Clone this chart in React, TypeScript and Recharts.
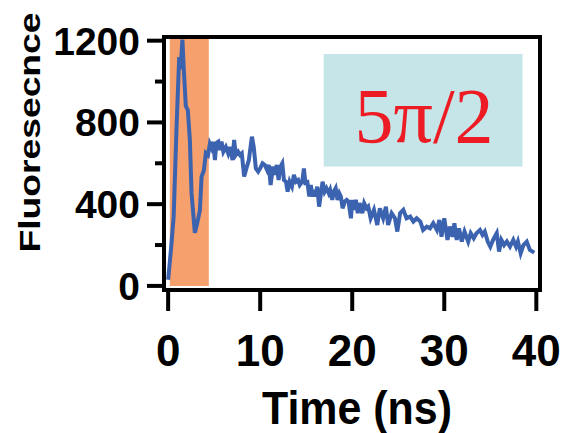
import React from 'react';
import { LineChart, Line, XAxis, YAxis, ReferenceArea } from 'recharts';

// time axis (ns) and fluorescence counts
const timeNs = [
  0.0, 0.35, 0.6, 0.9, 1.2, 1.35, 1.55, 1.7, 1.92, 2.14,
  2.36, 2.54, 2.9, 3.15, 3.45, 3.63, 3.88, 4.1, 4.33, 4.53,
  4.72, 4.9, 5.08, 5.25, 5.45, 5.6, 5.8, 6.0, 6.27, 6.52,
  6.7, 7.0, 7.17, 7.35, 7.6, 7.8, 8.0, 8.26, 8.5, 8.77,
  9.1, 9.3, 9.53, 9.78, 10.0, 10.26, 10.5, 10.75, 10.94, 11.13,
  11.4, 11.6, 11.8, 12.0, 12.2, 12.4, 12.58, 12.8, 12.98, 13.2,
  13.45, 13.66, 13.9, 14.13, 14.3, 14.57, 14.75, 14.93, 15.1, 15.33,
  15.5, 15.7, 15.87, 16.0, 16.2, 16.4, 16.6, 16.78, 17.0, 17.2,
  17.45, 17.6, 17.83, 18.0, 18.2, 18.4, 18.6, 18.77, 18.95, 19.2,
  19.4, 19.6, 19.86, 20.0, 20.25, 20.4, 20.6, 20.8, 21.1, 21.3,
  21.56, 21.74, 22.0, 22.36, 22.72, 23.0, 23.36, 23.66, 23.9, 24.28,
  24.64, 24.9, 25.2, 25.55, 25.9, 26.3, 26.64, 27.0, 27.4, 27.7,
  28.1, 28.45, 28.8, 29.2, 29.47, 29.7, 30.0, 30.35, 30.6, 30.9,
  31.1, 31.35, 31.6, 31.9, 32.2, 32.6, 32.87, 33.2, 33.5, 33.88,
  34.15, 34.4, 34.72, 35.0, 35.3, 35.7, 35.95, 36.2, 36.5, 36.8,
  37.14, 37.5, 37.8, 38.0, 38.3, 38.6, 38.96, 39.3, 39.78,
];

const fluorescence = [
  30, 200, 340, 760, 1120, 1060, 1205, 1060, 880, 860,
  715, 455, 260, 305, 370, 535, 565, 650, 640, 695,
  675, 705, 616, 700, 706, 665, 706, 657, 680, 649,
  680, 616, 714, 641, 657, 641, 649, 535, 575, 616,
  730, 680, 575, 559, 575, 600, 592, 567, 592, 494,
  584, 543, 592, 518, 584, 600, 518, 510, 461, 510,
  486, 543, 510, 518, 494, 510, 575, 494, 518, 437,
  494, 437, 470, 437, 486, 388, 453, 510, 461, 478,
  453, 470, 421, 461, 478, 421, 453, 437, 380, 413,
  421, 413, 331, 421, 372, 421, 356, 405, 356, 405,
  380, 388, 331, 372, 298, 380, 331, 388, 298, 356,
  331, 266, 356, 372, 331, 339, 315, 331, 315, 274,
  290, 282, 307, 274, 323, 241, 331, 225, 290, 241,
  307, 225, 282, 217, 266, 217, 258, 233, 258, 274,
  250, 266, 217, 192, 225, 258, 168, 225, 200, 217,
  192, 225, 192, 217, 160, 200, 217, 176, 163,
];

const xTicks = [0, 10, 20, 30, 40];
const yTicks = [0, 200, 400, 600, 800, 1000, 1200];
const yLabelledTicks = [0, 400, 800, 1200];

// shaded excitation window (ns)
const windowStart = 0.18;
const windowEnd = 4.42;
const windowTop = 1215;

// annotation box, in data units
const boxX = [16.9, 38.5];
const boxY = [584, 1135];
const boxText = '5π/2';

const xDomain = [-0.45, 40.4];
const yDomain = [-20, 1218];

const data = timeNs.map((t, i) => ({ t, f: fluorescence[i] }));

const sans = '"Liberation Sans", Arial, sans-serif';

const XTick = (props: any) => {
  const { x, y, payload } = props;
  return (
    <g>
      <line x1={x} y1={y} x2={x} y2={y + 21} stroke="#000" strokeWidth={4} />
      <text x={x} y={y + 76} textAnchor="middle" fontFamily={sans} fontWeight="bold" fontSize={44} fill="#000">
        {payload.value}
      </text>
    </g>
  );
};

const YTick = (props: any) => {
  const { x, y, payload } = props;
  const major = yLabelledTicks.includes(payload.value);
  return (
    <g>
      <line x1={x - (major ? 17 : 9)} y1={y} x2={x} y2={y} stroke="#000" strokeWidth={4} />
      {major && (
        <text x={x - 24} y={y + 14} textAnchor="end" fontFamily={sans} fontWeight="bold" fontSize={39} fill="#000">
          {payload.value}
        </text>
      )}
    </g>
  );
};

const XTitle = (props: any) => {
  const vb = props.viewBox;
  return (
    <text
      x={vb.x + vb.width / 2 + 5}
      y={vb.y + 134}
      textAnchor="middle"
      fontFamily={sans}
      fontWeight="bold"
      fontSize={47}
      textLength={190}
      lengthAdjust="spacingAndGlyphs"
      fill="#000"
    >
      Time (ns)
    </text>
  );
};

const YTitle = (props: any) => {
  const vb = props.viewBox;
  const cx = vb.x + 40;
  const cy = vb.y + vb.height / 2 - 31;
  return (
    <text
      x={cx}
      y={cy}
      transform={`rotate(-90 ${cx} ${cy})`}
      textAnchor="middle"
      fontFamily={sans}
      fontWeight="bold"
      fontSize={30}
      textLength={240}
      lengthAdjust="spacingAndGlyphs"
      fill="#000"
    >
      Fluoresecnce
    </text>
  );
};

const BoxLabel = (props: any) => {
  const vb = props.viewBox;
  return (
    <text
      x={vb.x + vb.width / 2 + 1}
      y={vb.y + vb.height * 0.78}
      textAnchor="middle"
      fontFamily='"Liberation Serif", "Times New Roman", serif'
      fontSize={78}
      fill="#ED1C24"
    >
      {boxText}
    </text>
  );
};

export default function App() {
  return (
    <div style={{ position: 'absolute', left: 0, top: 0 }}>
      <LineChart width={562} height={433} data={data} margin={{ top: 37, right: 22, bottom: 0, left: 0 }}>
        <XAxis
          dataKey="t"
          type="number"
          domain={xDomain}
          allowDataOverflow
          ticks={xTicks}
          axisLine={false}
          tickLine={false}
          tickSize={0}
          tickMargin={0}
          height={143}
          tick={<XTick />}
          label={<XTitle />}
        />
        <YAxis
          type="number"
          domain={yDomain}
          allowDataOverflow
          ticks={yTicks}
          axisLine={false}
          tickLine={false}
          tickSize={0}
          tickMargin={0}
          width={164}
          tick={<YTick />}
          label={<YTitle />}
        />
        <ReferenceArea x1={windowStart} x2={windowEnd} y1={0} y2={windowTop} fill="#F6A06E" fillOpacity={1} stroke="none" />
        <ReferenceArea
          x1={boxX[0]}
          x2={boxX[1]}
          y1={boxY[0]}
          y2={boxY[1]}
          fill="#C5E5E8"
          fillOpacity={1}
          stroke="none"
          label={<BoxLabel />}
        />
        <Line
          type="linear"
          dataKey="f"
          stroke="#3C63AF"
          strokeWidth={4}
          dot={false}
          isAnimationActive={false}
        />
        <ReferenceArea
          x1={xDomain[0]}
          x2={xDomain[1]}
          y1={yDomain[0]}
          y2={yDomain[1]}
          fill="none"
          stroke="#000"
          strokeWidth={4}
        />
      </LineChart>
    </div>
  );
}
